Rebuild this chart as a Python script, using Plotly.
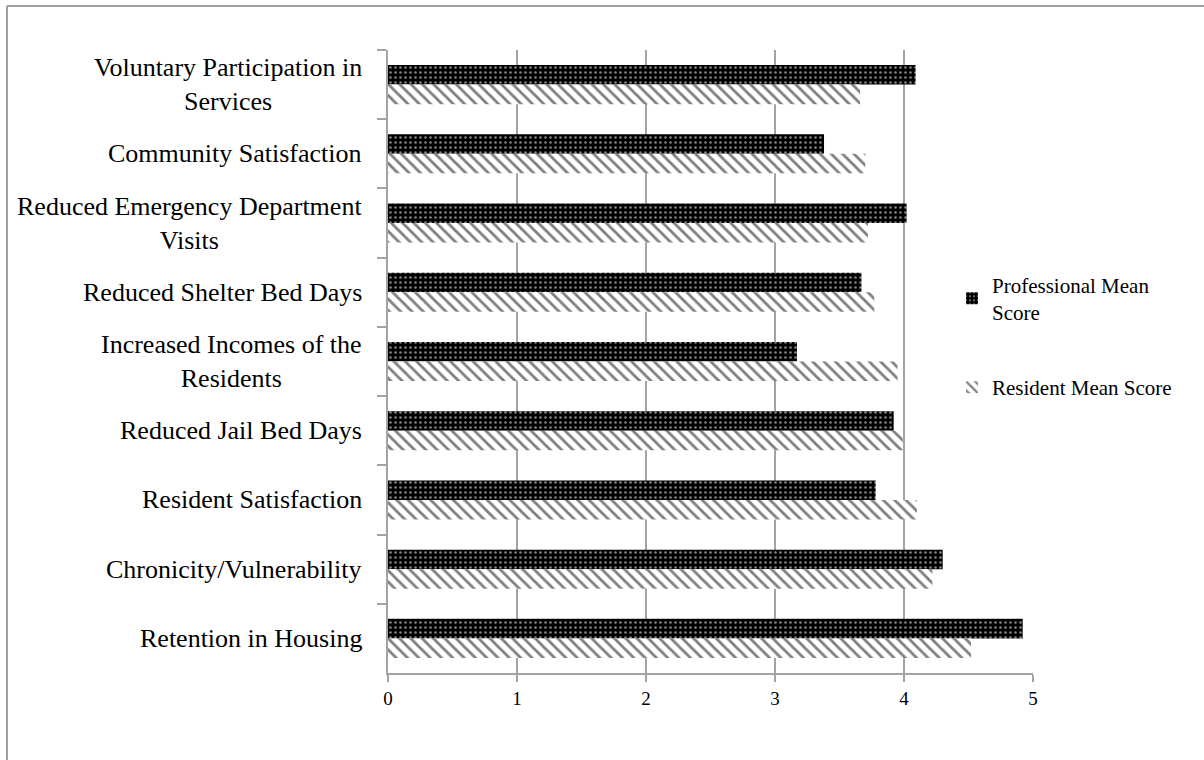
import plotly.graph_objects as go

categories = [
    "Voluntary Participation in<br>Services",
    "Community Satisfaction",
    "Reduced Emergency Department<br>Visits",
    "Reduced Shelter Bed Days",
    "Increased Incomes of the<br>Residents",
    "Reduced Jail Bed Days",
    "Resident Satisfaction",
    "Chronicity/Vulnerability",
    "Retention in Housing",
]
professional = [4.09, 3.38, 4.02, 3.67, 3.17, 3.92, 3.78, 4.30, 4.92]
resident = [3.66, 3.70, 3.72, 3.77, 3.95, 3.99, 4.10, 4.22, 4.52]
x_ticks = [0, 1, 2, 3, 4, 5]

FONT = "Liberation Serif, Times New Roman, serif"
GRID = "#a3a3a3"

fig = go.Figure()
fig.add_trace(go.Bar(
    y=categories, x=professional, orientation="h",
    name="Professional Mean<br>Score", legendgroup="p",
    marker=dict(color="black", line=dict(width=0),
                pattern=dict(shape=".", bgcolor="black", fgcolor="white",
                             size=5, solidity=0.22, fillmode="overlay")),
))
fig.add_trace(go.Bar(
    y=categories, x=resident, orientation="h",
    name="Resident Mean Score", legendgroup="r",
    marker=dict(color="white", line=dict(width=0),
                pattern=dict(shape="\\", bgcolor="white", fgcolor="black",
                             size=8, solidity=0.35, fillmode="overlay")),
))

# category labels, centered multi-line, right-anchored at the axis
for c in categories:
    fig.add_annotation(x=0, xref="paper", y=c, yref="y", text=c,
                       xanchor="right", xshift=-24, align="center",
                       showarrow=False,
                       font=dict(family=FONT, size=26, color="black"))

L, R, T, B = 388, 1204 - 1033, 50, 760 - 673
pw, ph = 1204 - L - R, 760 - T - B

def px_x(x):
    return (x - L) / pw

def px_y(y):
    return 1 - (y - T) / ph

shapes = [
    # outer frame (top and left)
    dict(type="line", xref="paper", yref="paper", x0=px_x(7), x1=px_x(1204),
         y0=px_y(6), y1=px_y(6), line=dict(color="#a0a0a0", width=2)),
    dict(type="line", xref="paper", yref="paper", x0=px_x(7), x1=px_x(7),
         y0=px_y(6), y1=px_y(760), line=dict(color="#a0a0a0", width=2)),
    # legend background area
    dict(type="rect", xref="paper", yref="paper", x0=px_x(1015), x1=px_x(1050),
         y0=px_y(480), y1=px_y(240), fillcolor="white", line=dict(width=0),
         layer="above"),
]

fig.update_layout(
    width=1204, height=760,
    margin=dict(l=L, r=R, t=T, b=B),
    paper_bgcolor="white", plot_bgcolor="white",
    barmode="group", bargap=0.436, bargroupgap=0,
    font=dict(family=FONT, color="black"),
    showlegend=True,
    legend=dict(x=px_x(952), xanchor="left", y=px_y(336), yanchor="middle",
                bgcolor="rgba(255,255,255,0)", font=dict(family=FONT, size=21),
                tracegroupgap=45, itemwidth=30, traceorder="grouped"),
    shapes=shapes,
)
fig.update_xaxes(range=[0, 5], tickvals=x_ticks, ticktext=[str(t) for t in x_ticks],
                 showgrid=True, gridcolor=GRID, gridwidth=1.5,
                 zeroline=False, showline=True, linecolor=GRID, linewidth=1.5,
                 ticks="outside", ticklen=7, tickcolor=GRID, tickwidth=1.5,
                 tickfont=dict(family=FONT, size=19, color="black"))
fig.update_yaxes(type="category", autorange="reversed",
                 showticklabels=False, showgrid=False, zeroline=False,
                 showline=True, linecolor=GRID, linewidth=1.5,
                 ticks="outside", tickson="boundaries", ticklen=9,
                 tickcolor=GRID, tickwidth=1.5)

fig.write_html("out.html")
